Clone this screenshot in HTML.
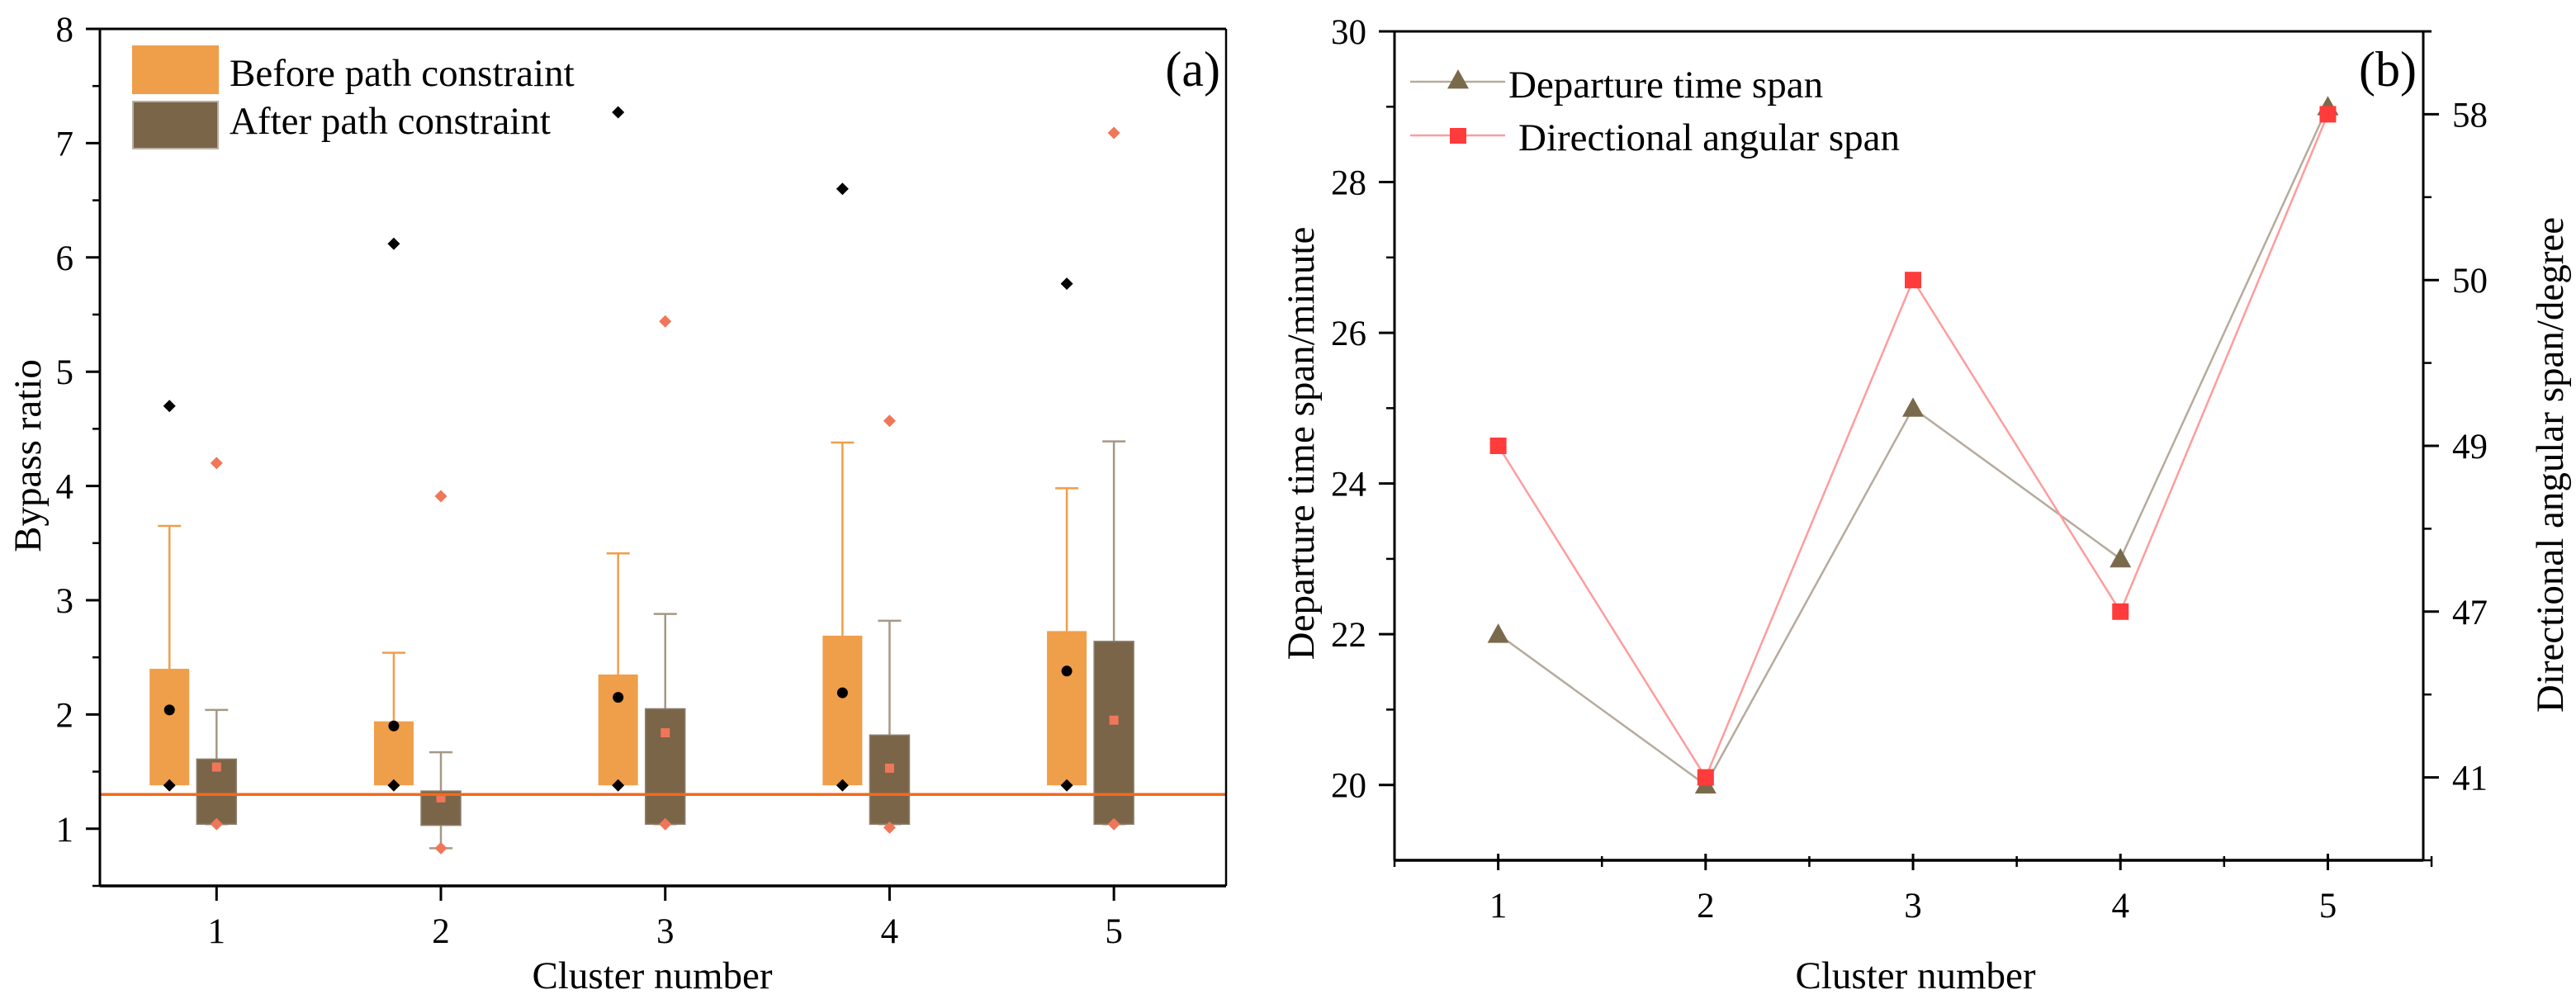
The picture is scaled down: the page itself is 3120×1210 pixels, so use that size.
<!DOCTYPE html>
<html><head><meta charset="utf-8"><style>
html,body{margin:0;padding:0;background:#fff;}
svg{display:block;font-family:"Liberation Serif",serif;}
</style></head><body>
<svg id="fig" width="3120" height="1210" viewBox="0 0 3120 1210" xmlns="http://www.w3.org/2000/svg">
<g id="pa"></g>
<g id="pb"></g>
</svg>
<script>
// ---- Panel (a) data ----
const clusters = [1,2,3,4,5];
const beforeQ1 = [1.38,1.38,1.38,1.38,1.38];
const beforeQ3 = [2.40,1.94,2.35,2.69,2.73];
const beforeWhiskerHi = [3.65,2.54,3.41,4.38,3.98];
const beforeMean = [2.04,1.90,2.15,2.19,2.38];
const beforeMin = [1.38,1.38,1.38,1.38,1.38];
const beforeMax = [4.70,6.12,7.27,6.60,5.77];
const afterQ1 = [1.04,1.03,1.04,1.04,1.04];
const afterQ3 = [1.61,1.33,2.05,1.82,2.64];
const afterWhiskerHi = [2.04,1.67,2.88,2.82,4.39];
const afterWhiskerLo = [1.04,0.83,1.04,1.04,1.04];
const afterMean = [1.54,1.27,1.84,1.53,1.95];
const afterMin = [1.04,0.83,1.04,1.01,1.04];
const afterMax = [4.20,3.91,5.44,4.57,7.09];
const refLine = 1.30;
const yTicksA = [1,2,3,4,5,6,7,8];

// ---- Panel (b) data ----
const departure = [22,20,25,23,29];
const angular = [49,41,50,47,58];
const leftTicksB = [20,22,24,26,28,30];
const rightTickLabels = [41,47,49,50,58];

const NS="http://www.w3.org/2000/svg";
function el(parent, tag, attrs, text){
  const e=document.createElementNS(NS,tag);
  for(const k in attrs) e.setAttribute(k,attrs[k]);
  if(text!==undefined) e.textContent=text;
  parent.appendChild(e); return e;
}
const TICKF=43, TITLEF=47, LEGF=47;

// ===== Panel A =====
const pa=document.getElementById('pa');
const AL=121, AR=1485, AT=35, AB=1073;
const axA={xmin:0.48,xmax:5.5,ymin:0.5,ymax:8};
const xA=v=>AL+(v-axA.xmin)/(axA.xmax-axA.xmin)*(AR-AL);
const yA=v=>AB-(v-axA.ymin)/(axA.ymax-axA.ymin)*(AB-AT);
const OFF=-0.21, BW=48;
const orange="#ef9e4a", brown="#7a6548";

function diamond(g,cx,cy,r,fill,name){
  const p=el(g,'path',{d:`M${cx} ${cy-r}L${cx+r} ${cy}L${cx} ${cy+r}L${cx-r} ${cy}Z`,fill:fill});
  
  
}
clusters.forEach((c,i)=>{
  const g=el(pa,'g',{});
  
  
  const bx=xA(c+OFF);
  let w=el(g,'line',{x1:bx,x2:bx,y1:yA(beforeWhiskerHi[i]),y2:yA(beforeQ3[i]),stroke:orange,'stroke-width':2.5});
  
  
  el(g,'line',{x1:bx-14,x2:bx+14,y1:yA(beforeWhiskerHi[i]),y2:yA(beforeWhiskerHi[i]),stroke:orange,'stroke-width':2.5});
  let r=el(g,'rect',{x:bx-BW/2,y:yA(beforeQ3[i]),width:BW,height:yA(beforeQ1[i])-yA(beforeQ3[i]),fill:orange});
  
  
  let m=el(g,'circle',{cx:bx,cy:yA(beforeMean[i]),r:6.5,fill:'#000'});
  
  
  diamond(g,bx,yA(beforeMin[i]),7.5,'#000','before-min');
  diamond(g,bx,yA(beforeMax[i]),7.5,'#000','before-max');
  const ax=xA(c);
  const wc="#a49886";
  w=el(g,'line',{x1:ax,x2:ax,y1:yA(afterWhiskerHi[i]),y2:yA(afterWhiskerLo[i]),stroke:wc,'stroke-width':2.5});
  
  
  el(g,'line',{x1:ax-14,x2:ax+14,y1:yA(afterWhiskerHi[i]),y2:yA(afterWhiskerHi[i]),stroke:wc,'stroke-width':2.5});
  el(g,'line',{x1:ax-14,x2:ax+14,y1:yA(afterWhiskerLo[i]),y2:yA(afterWhiskerLo[i]),stroke:wc,'stroke-width':2.5});
  r=el(g,'rect',{x:ax-BW/2,y:yA(afterQ3[i]),width:BW,height:yA(afterQ1[i])-yA(afterQ3[i]),fill:brown,stroke:'#8c8070','stroke-width':1.5});
  
  
  m=el(g,'rect',{x:ax-5.5,y:yA(afterMean[i])-5.5,width:11,height:11,fill:'#f0765a'});
  
  
  diamond(g,ax,yA(afterMin[i]),7.5,'#f0765a','after-min');
  diamond(g,ax,yA(afterMax[i]),7.5,'#f0765a','after-max');
});
let ln=el(pa,'line',{x1:AL,x2:AR,y1:yA(refLine),y2:yA(refLine),stroke:'#f26a1b','stroke-width':3.5});


el(pa,'line',{x1:AL,x2:AR,y1:AT,y2:AT,stroke:'#000','stroke-width':3});
el(pa,'line',{x1:AR,x2:AR,y1:AT,y2:AB,stroke:'#000','stroke-width':2.5});
let ax1=el(pa,'line',{x1:AL,x2:AL,y1:AT,y2:AB,stroke:'#000','stroke-width':3});


let ax2=el(pa,'line',{x1:AL,x2:AR,y1:AB,y2:AB,stroke:'#000','stroke-width':3.5});


yTicksA.forEach(v=>{
  el(pa,'line',{x1:AL-17,x2:AL,y1:yA(v),y2:yA(v),stroke:'#000','stroke-width':3});
  if(v+0.5<=axA.ymax) el(pa,'line',{x1:AL-9,x2:AL,y1:yA(v+0.5),y2:yA(v+0.5),stroke:'#000','stroke-width':2.5});
  const t=el(pa,'text',{x:AL-32,y:yA(v)+15,'text-anchor':'end','font-size':TICKF},String(v));
  
  
});
el(pa,'line',{x1:AL-9,x2:AL,y1:yA(0.5),y2:yA(0.5),stroke:'#000','stroke-width':2.5});
clusters.forEach(c=>{
  el(pa,'line',{x1:xA(c),x2:xA(c),y1:AB,y2:AB+18,stroke:'#000','stroke-width':3});
  const t=el(pa,'text',{x:xA(c),y:1142,'text-anchor':'middle','font-size':TICKF},String(c));
  
  
});
let tt=el(pa,'text',{x:790,y:1197,'text-anchor':'middle','font-size':TITLEF},'Cluster number');


tt=el(pa,'text',{transform:'translate(49,552) rotate(-90)','text-anchor':'middle','font-size':TITLEF},'Bypass ratio');


tt=el(pa,'text',{x:1478,y:104,'text-anchor':'end','font-size':60},'(a)');


let lg=el(pa,'g',{});


el(lg,'rect',{x:160,y:55,width:105,height:59,fill:orange});
el(lg,'text',{x:278,y:104,'font-size':LEGF},'Before path constraint');
el(lg,'rect',{x:161,y:123,width:103,height:57,fill:brown,stroke:'#b8b0a4','stroke-width':2});
el(lg,'text',{x:278,y:162,'font-size':LEGF,'xml:space':'preserve'},'After  path constraint');

// ===== Panel B =====
const pb=document.getElementById('pb');
const BL=1689, BR=2935, BT=38, BB=1042;
const axB={xmin:0.5,xmax:5.46,ymin:19,ymax:30};
const xB=v=>BL+(v-axB.xmin)/(axB.xmax-axB.xmin)*(BR-BL);
const yB=v=>BB-(v-axB.ymin)/(axB.ymax-axB.ymin)*(BB-BT);
const R0=20.1, RSTEP=2.2;
function yR(v){
  const t=rightTickLabels;
  let idx;
  if(v<=t[0]) idx=(v-t[0])/(t[1]-t[0]);
  else if(v>=t[t.length-1]) idx=t.length-1+(v-t[t.length-1])/(t[t.length-1]-t[t.length-2]);
  else { for(let k=0;k<t.length-1;k++){ if(v>=t[k]&&v<=t[k+1]){ idx=k+(v-t[k])/(t[k+1]-t[k]); break; } } }
  return yB(R0+idx*RSTEP);
}
const depPts=clusters.map((c,i)=>xB(c)+','+yB(departure[i])).join(' ');
let pl=el(pb,'polyline',{points:depPts,fill:'none',stroke:'#b5ab9c','stroke-width':2.5});


const angPts=clusters.map((c,i)=>xB(c)+','+yR(angular[i])).join(' ');
pl=el(pb,'polyline',{points:angPts,fill:'none',stroke:'#ff9c9c','stroke-width':2.5});


function tri(g,cx,cy,s,name){
  const p=el(g,'path',{d:`M${cx} ${cy-s}L${cx+s} ${cy+s*0.8}L${cx-s} ${cy+s*0.8}Z`,fill:'#7a6a4c'});
  
  
}
clusters.forEach((c,i)=>{
  tri(pb,xB(c),yB(departure[i]),13,'departure-point');
  const s=el(pb,'rect',{x:xB(c)-10,y:yR(angular[i])-10,width:20,height:20,fill:'#ff3b3b'});
  
  
});
el(pb,'line',{x1:BL-19,x2:BR+10,y1:BT,y2:BT,stroke:'#000','stroke-width':3});
let bax=el(pb,'line',{x1:BL,x2:BL,y1:BT,y2:BB,stroke:'#000','stroke-width':3});


bax=el(pb,'line',{x1:BR,x2:BR,y1:BT,y2:BB,stroke:'#000','stroke-width':3});


bax=el(pb,'line',{x1:BL,x2:BR,y1:BB,y2:BB,stroke:'#000','stroke-width':3.5});


leftTicksB.forEach(v=>{
  el(pb,'line',{x1:BL-19,x2:BL,y1:yB(v),y2:yB(v),stroke:'#000','stroke-width':3});
  if(v+1<=axB.ymax) el(pb,'line',{x1:BL-10,x2:BL,y1:yB(v+1),y2:yB(v+1),stroke:'#000','stroke-width':2.5});
  const t=el(pb,'text',{x:BL-34,y:yB(v)+15,'text-anchor':'end','font-size':TICKF},String(v));
  
  
});
rightTickLabels.forEach((v,k)=>{
  el(pb,'line',{x1:BR,x2:BR+19,y1:yR(v),y2:yR(v),stroke:'#000','stroke-width':3});
  el(pb,'line',{x1:BR,x2:BR+10,y1:yB(R0+(k-0.5)*RSTEP),y2:yB(R0+(k-0.5)*RSTEP),stroke:'#000','stroke-width':2.5});
  const t=el(pb,'text',{x:BR+35,y:yR(v)+15,'text-anchor':'start','font-size':TICKF},String(v));
  
  
});
el(pb,'line',{x1:BR,x2:BR+10,y1:yB(R0+4.5*RSTEP),y2:yB(R0+4.5*RSTEP),stroke:'#000','stroke-width':2.5});
clusters.forEach(c=>{
  el(pb,'line',{x1:xB(c),x2:xB(c),y1:BB-8,y2:BB+12,stroke:'#000','stroke-width':3});
  el(pb,'line',{x1:xB(c+0.5),x2:xB(c+0.5),y1:BB-5,y2:BB+8,stroke:'#000','stroke-width':2.5});
  const t=el(pb,'text',{x:xB(c),y:1111,'text-anchor':'middle','font-size':TICKF},String(c));
  
  
});
el(pb,'line',{x1:xB(0.5),x2:xB(0.5),y1:BB-5,y2:BB+8,stroke:'#000','stroke-width':2.5});
tt=el(pb,'text',{x:2320,y:1197,'text-anchor':'middle','font-size':TITLEF},'Cluster number');


tt=el(pb,'text',{transform:'translate(1591,537) rotate(-90)','text-anchor':'middle','font-size':TITLEF},'Departure time span/minute');


tt=el(pb,'text',{transform:'translate(3104,563) rotate(-90)','text-anchor':'middle','font-size':TITLEF},'Directional angular span/degree');


tt=el(pb,'text',{x:2927,y:104,'text-anchor':'end','font-size':60},'(b)');


lg=el(pb,'g',{});


el(lg,'line',{x1:1708,x2:1823,y1:99,y2:99,stroke:'#b5ab9c','stroke-width':2.5});
tri(lg,1766,97,13,'legend-triangle');
el(lg,'text',{x:1827,y:118,'font-size':LEGF},'Departure time span');
el(lg,'line',{x1:1708,x2:1823,y1:164,y2:164,stroke:'#ff9c9c','stroke-width':2.5});
el(lg,'rect',{x:1756,y:155,width:20,height:19,fill:'#ff3b3b'});
el(lg,'text',{x:1839,y:182,'font-size':LEGF},'Directional angular span');
</script>
</body></html>
